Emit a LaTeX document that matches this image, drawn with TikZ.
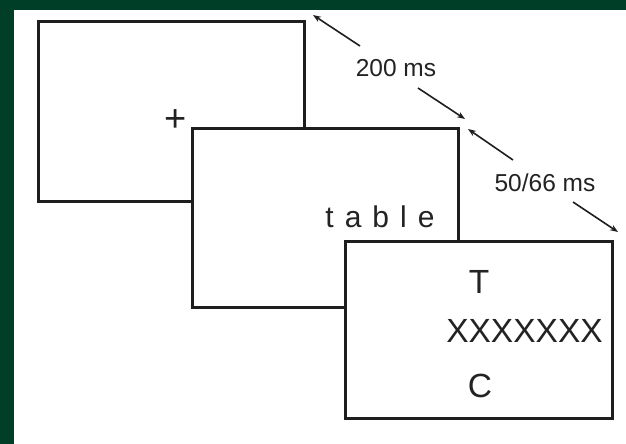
\documentclass[tikz,border=0pt]{standalone}
\usepackage{fontspec}
\setmainfont{Liberation Sans}
\usetikzlibrary{arrows.meta}
\definecolor{bggreen}{RGB}{1,62,40}
\definecolor{ink}{RGB}{30,30,30}
\definecolor{txt}{RGB}{35,35,35}
\tikzset{
  screen/.style={draw=ink, line width=3pt, fill=white},
  lbl/.style={text=txt, inner sep=0pt, anchor=base, font=\fontsize{24.5}{28}\selectfont},
  big/.style={text=txt, inner sep=0pt, anchor=base, font=\fontsize{33.5}{38}\selectfont},
  timing/.style={draw=ink, line width=1.6pt, -{Stealth[length=8pt,width=6pt]}}
}
\begin{document}
\begin{tikzpicture}[x=1pt,y=-1pt]
\useasboundingbox (0,0) rectangle (626,444);
\fill[bggreen] (0,0) rectangle (626,444);
\fill[white] (14,10) rectangle (626,444);
% screens
\draw[screen] (38,22) rectangle (304,201);
\node[big, font=\fontsize{38}{40}\selectfont] (fix) at (175.5,131) {+};
\draw[screen] (192,128) rectangle (458,307);
\node[lbl, font=\fontsize{30}{34}\selectfont] (word) at (380,227) {t\hspace{11pt}a\hspace{11pt}b\hspace{11pt}l\hspace{11pt}e};
\draw[screen] (345,241) rectangle (612,418);
\node[big] (tt) at (479,293) {T};
\node[big] (xx) at (524.5,342) {XXXXXXX};
\node[big] (cc) at (480,397) {C};
% timing labels
\node[lbl] (t1) at (396,77) {200 ms};
\node[lbl] (t2) at (545,191.5) {50/66 ms};
\coordinate (a1s) at (360,46);
\coordinate (a1e) at (313,15);
\coordinate (a2s) at (418,88);
\coordinate (a2e) at (465,119);
\coordinate (a3s) at (513,160);
\coordinate (a3e) at (468,129);
\coordinate (a4s) at (573,202);
\coordinate (a4e) at (618,232);
\draw[timing] (a1s) -- (a1e);
\draw[timing] (a2s) -- (a2e);
\draw[timing] (a3s) -- (a3e);
\draw[timing] (a4s) -- (a4e);
\end{tikzpicture}
\end{document}
